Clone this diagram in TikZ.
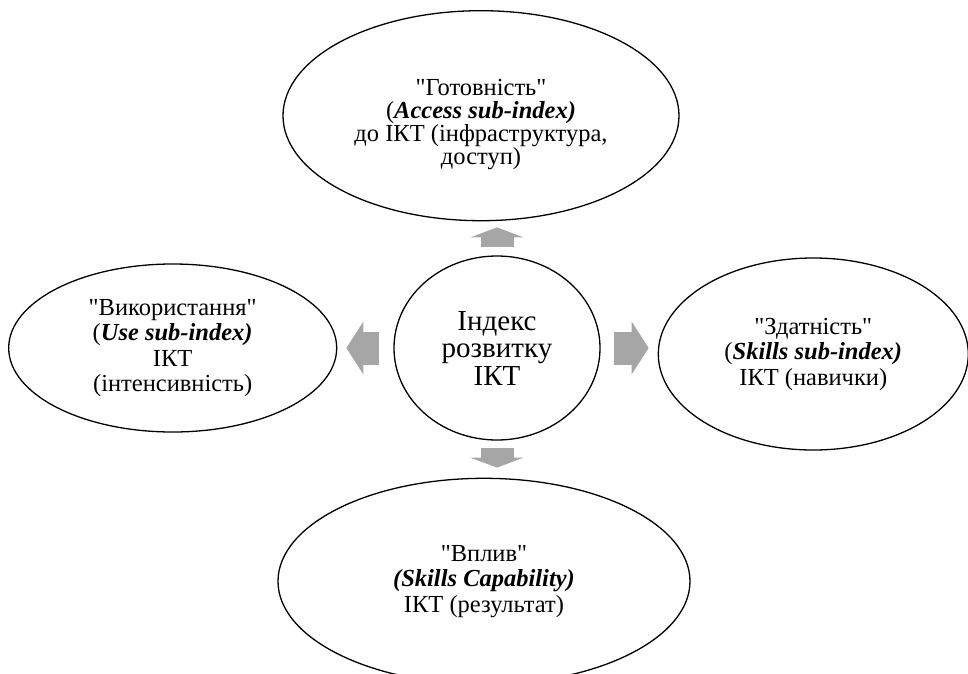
\documentclass[tikz,border=0pt]{standalone}
\usepackage{fontspec}
\setmainfont{Liberation Serif}[Ligatures=TeXOff]
\usetikzlibrary{positioning,arrows.meta,shapes.geometric}
\definecolor{arrowgray}{RGB}{166,166,166}

\begin{document}
\begin{tikzpicture}[x=1pt, y=1pt,
  oval/.style={draw, ellipse, line width=1.3pt, inner sep=0pt, align=center, font=\fontsize{24.5}{25.5}\selectfont},
  blk/.style={draw=arrowgray, line width=33pt, -{Triangle[width=53pt, length=#1, line width=0pt]}},
]
\useasboundingbox (-497,348) rectangle (471,-325);
\node[oval, minimum width=206pt, minimum height=184pt, font=\fontsize{29}{27.5}\selectfont] (idx) {Індекс\\розвитку\\ІКТ};
\node[oval, minimum width=396pt, minimum height=210pt, above=34pt of idx, xshift=-16pt, font=\fontsize{24.5}{23}\selectfont] (ready)
  {\rule{0pt}{34pt}"Готовність"\\(\textbf{\textit{Access sub-index)}}\\до ІКТ (інфраструктура,\\доступ)};
\node[oval, minimum width=328pt, minimum height=168pt, left=56pt of idx] (use)
  {"Використання"\\(\textbf{\textit{Use sub-index)}}\\ІКТ\\(інтенсивність)};
\node[oval, minimum width=310pt, minimum height=192pt, right=57pt of idx, yshift=-6pt] (skill)
  {"Здатність"\\(\textbf{\textit{Skills sub-index)}}\\ІКТ (навички)};
\node[oval, minimum width=412pt, minimum height=206pt, below=37pt of idx, xshift=-13pt] (impact)
  {"Вплив"\\\textbf{\textit{(Skills Capability)}}\\ІКТ (результат)};
% block arrows out of the index
\draw[blk=10pt, shorten <=8pt, shorten >=6pt] (idx.north) -- (idx.north |- ready.south);
\draw[blk=10pt, shorten <=7pt, shorten >=10pt] (idx.south) -- (idx.south |- impact.north);
\draw[blk=17pt, shorten <=14pt, shorten >=9pt] (idx.west) -- (idx.west -| use.east);
\draw[blk=17pt, shorten <=13pt, shorten >=9pt] (idx.east) -- (idx.east -| skill.west);
\end{tikzpicture}
\end{document}
